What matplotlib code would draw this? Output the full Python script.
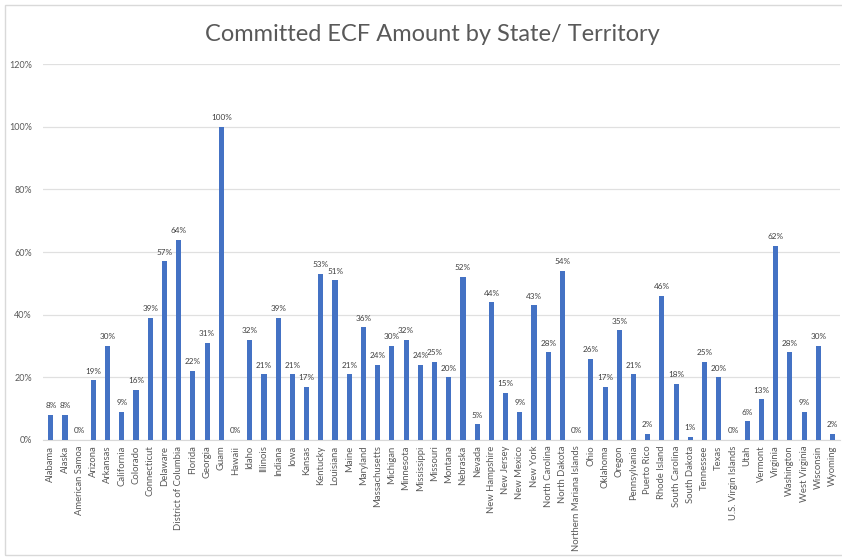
import numpy as np
import matplotlib.pyplot as plt
from matplotlib.patches import Rectangle
from matplotlib.ticker import PercentFormatter

plt.rcParams['font.family'] = ['Lato', 'DejaVu Sans']

states = ['Alabama', 'Alaska', 'American Samoa', 'Arizona', 'Arkansas', 'California',
          'Colorado', 'Connecticut', 'Delaware', 'District of Columbia', 'Florida',
          'Georgia', 'Guam', 'Hawaii', 'Idaho', 'Illinois', 'Indiana', 'Iowa', 'Kansas',
          'Kentucky', 'Louisiana', 'Maine', 'Maryland', 'Massachusetts', 'Michigan',
          'Minnesota', 'Mississippi', 'Missouri', 'Montana', 'Nebraska', 'Nevada',
          'New Hampshire', 'New Jersey', 'New Mexico', 'New York', 'North Carolina',
          'North Dakota', 'Northern Mariana Islands', 'Ohio', 'Oklahoma', 'Oregon',
          'Pennsylvania', 'Puerto Rico', 'Rhode Island', 'South Carolina', 'South Dakota',
          'Tennessee', 'Texas', 'U.S. Virgin Islands', 'Utah', 'Vermont', 'Virginia',
          'Washington', 'West Virginia', 'Wisconsin', 'Wyoming']
pct = [8, 8, 0, 19, 30, 9, 16, 39, 57, 64, 22, 31, 100, 0, 32, 21, 39, 21, 17,
       53, 51, 21, 36, 24, 30, 32, 24, 25, 20, 52, 5, 44, 15, 9, 43, 28, 54, 0,
       26, 17, 35, 21, 2, 46, 18, 1, 25, 20, 0, 6, 13, 62, 28, 9, 30, 2]
yticks = [0, 20, 40, 60, 80, 100, 120]

fig = plt.figure(figsize=(8.42, 5.58), dpi=100)
fig.patches.append(Rectangle((0.006, 0.005), 1.1, 0.986, transform=fig.transFigure,
                             fill=False, edgecolor='#d9d9d9', linewidth=1))
ax = fig.add_axes([0.051, 0.2115, 0.947, 0.6735])

x = np.arange(len(states))
ax.bar(x, pct, width=0.36, color='#4472C4', zorder=3)
for xi, v in zip(x, pct):
    ax.text(xi, v + 1.8, f'{v}%', ha='center', va='bottom', fontsize=5.9, color='#404040')

ax.set_ylim(0, 120)
ax.set_xlim(-0.55, len(states) - 0.45)
ax.set_yticks(yticks)
ax.yaxis.set_major_formatter(PercentFormatter(decimals=0))
ax.set_xticks(x)
ax.set_xticklabels(states, rotation=90, fontsize=6.8, color='#595959')
ax.tick_params(axis='y', labelsize=6.5, labelcolor='#595959', length=0, pad=8)
ax.tick_params(axis='x', length=0, pad=4)
ax.grid(axis='y', color='#e0e0e0', linewidth=0.9, zorder=0)
for s in ['top', 'right', 'left']:
    ax.spines[s].set_visible(False)
ax.spines['bottom'].set_color('#d9d9d9')

fig.text(0.513, 0.938, 'Committed ECF Amount by State/ Territory', ha='center', va='center',
         fontsize=17, color='#595959')

fig.savefig('out.png', dpi=100)
